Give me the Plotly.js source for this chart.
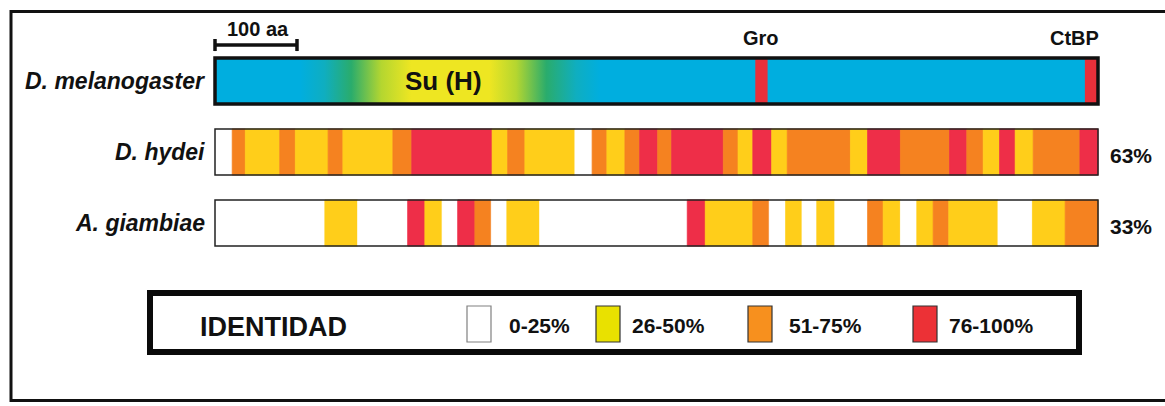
<!DOCTYPE html>
<html>
<head>
<meta charset="utf-8">
<script src="https://cdn.plot.ly/plotly-3.0.1.min.js"></script>
<style>html,body{margin:0;padding:0;background:#fff;}#chart{width:1165px;height:406px;}</style>
</head>
<body>
<div id="chart"></div>
<script>
// ---------------- data ----------------
const proteinLength = 1077;                       // aa, D. melanogaster Hairless
const species = ['D. melanogaster', 'D. hydei', 'A. giambiae'];
const identityPct = ['', '63%', '33%'];

// segment boundaries (aa) and identity class (0:0-25, 1:26-50, 2:51-75, 3:76-100)
const hydeiBounds = [0,21,37,79,98,138,156,217,240,338,357,378,439,460,478,500,518,540,557,620,638,656,679,698,775,796,836,896,917,937,957,976,998,1055,1077];
const hydeiLevel  = [0,2,1,2,1,2,1,2,3,1,2,1,0,2,1,2,3,2,3,2,1,3,1,2,1,3,2,3,2,1,3,1,2,3];
const giambiaeBounds = [0,134,174,235,256,277,296,317,337,356,396,576,598,656,676,696,716,734,756,796,815,836,856,876,895,955,997,1037,1077];
const giambiaeLevel  = [0,1,0,3,1,0,3,2,0,1,0,3,1,2,0,1,0,1,0,2,1,0,1,2,1,0,1,2];

const suHName = 'Su (H)';
const suHStart = 104, suHEnd = 470;
const motifNames = ['Gro', 'CtBP'];
const motifStart = [659, 1061];
const motifEnd   = [674, 1077];
const scaleBarAa = 100;
const scaleBarLabel = '100 aa';

const legendTitle = 'IDENTIDAD';
const legendLabels = ['0-25%', '26-50%', '51-75%', '76-100%'];

// ---------------- styles ----------------
const levelColors = ['#FFFFFF', '#FFCE1A', '#F58220', '#EE2E48'];
const legendSwatchColors = ['#FFFFFF', '#E9E100', '#F7901E', '#EC3136'];
const legendSwatchBorders = ['#808080', '#333333', '#333333', '#333333'];
const proteinBlue = '#00AEDF';
const motifRed = '#E8303A';
const FONT = 'Liberation Sans, Arial, sans-serif';

const W = 1165, H = 406;
const barLeftPx = 215, barRightPx = 1098;
const k = (barRightPx - barLeftPx) / proteinLength;      // px per aa
const rowTopPx = 81, rowStepPx = 71;
const half = 0.325;
const pxToPaperX = p => p / W;
const pxToPaperY = p => 1 - p / H;

const traces = [];
const shapes = [];
const annotations = [];

// ----- D. melanogaster protein -----
traces.push({
  type: 'bar', orientation: 'h', y: [0], base: [0], x: [proteinLength], width: half * 2,
  marker: {color: proteinBlue, line: {width: 0}}, hoverinfo: 'skip', showlegend: false
});
traces.push({
  type: 'bar', orientation: 'h', y: motifStart.map(() => 0), base: motifStart,
  x: motifStart.map((s, i) => motifEnd[i] - s), width: half * 2,
  marker: {color: motifRed, line: {width: 0}}, hoverinfo: 'skip', showlegend: false
});

// ----- identity tracks -----
function track(bounds, levels, row) {
  const base = [], len = [], col = [];
  for (let i = 0; i < levels.length; i++) {
    base.push(bounds[i]); len.push(bounds[i + 1] - bounds[i]); col.push(levelColors[levels[i]]);
  }
  traces.push({
    type: 'bar', orientation: 'h', y: base.map(() => row), base: base, x: len, width: half * 2,
    marker: {color: col, line: {color: col, width: 0.8}}, hoverinfo: 'skip', showlegend: false
  });
}
track(hydeiBounds, hydeiLevel, 1);
track(giambiaeBounds, giambiaeLevel, 2);

// Su(H) gradient domain
traces.push({
  type: 'scatter', mode: 'none', fill: 'toself',
  x: [suHStart, suHEnd, suHEnd, suHStart, suHStart],
  y: [-half, -half, half, half, -half],
  fillgradient: {
    type: 'horizontal',
    colorscale: [
      [0, proteinBlue], [0.08, '#0FAEC0'], [0.17, '#2AAC6C'], [0.27, '#B4D630'],
      [0.37, '#EEE622'], [0.63, '#EEE622'], [0.72, '#B4D630'], [0.82, '#2AAC6C'],
      [0.92, '#0FAEC0'], [1, proteinBlue]
    ]
  },
  hoverinfo: 'skip', showlegend: false
});

// scale bar
const sbY = (45 - rowTopPx) / rowStepPx, cap = 0.085;
traces.push({
  type: 'scatter', mode: 'lines',
  x: [0, scaleBarAa, null, 0, 0, null, scaleBarAa, scaleBarAa],
  y: [sbY, sbY, null, sbY - cap, sbY + cap, null, sbY - cap, sbY + cap],
  line: {color: '#111', width: 3.5}, hoverinfo: 'skip', showlegend: false
});

// borders of rows
shapes.push({type: 'rect', xref: 'x', yref: 'y', x0: 0, x1: proteinLength, y0: -half, y1: half,
  line: {color: '#111', width: 3.5}, fillcolor: 'rgba(0,0,0,0)'});
[1, 2].forEach(r => shapes.push({type: 'rect', xref: 'x', yref: 'y', x0: 0, x1: proteinLength,
  y0: r - half, y1: r + half, line: {color: '#222', width: 1.5}, fillcolor: 'rgba(0,0,0,0)'}));

// labels
const bold = (size, extra) => Object.assign({family: FONT, size: size, color: '#111', weight: 'bold'}, extra || {});
species.forEach((s, i) => {
  annotations.push({x: 0, y: i, xref: 'x', yref: 'y', text: s, showarrow: false,
    xanchor: 'right', yanchor: 'middle', xshift: -8, font: bold(23, {style: 'italic'})});
  if (identityPct[i]) annotations.push({x: proteinLength, y: i, xref: 'x', yref: 'y', text: identityPct[i],
    showarrow: false, xanchor: 'left', yanchor: 'middle', xshift: 10, yshift: -3, font: bold(21)});
});
annotations.push({x: (suHStart + suHEnd) / 2, y: 0, xref: 'x', yref: 'y', text: suHName, showarrow: false,
  xanchor: 'center', yanchor: 'middle', xshift: -7, font: bold(26)});
annotations.push({x: (motifStart[0] + motifEnd[0]) / 2, y: -half, xref: 'x', yref: 'y', text: motifNames[0],
  showarrow: false, xanchor: 'center', yanchor: 'bottom', yshift: 7, font: bold(20)});
annotations.push({x: motifEnd[1], y: -half, xref: 'x', yref: 'y', text: motifNames[1],
  showarrow: false, xanchor: 'right', yanchor: 'bottom', xshift: 3, yshift: 7, font: bold(20)});
annotations.push({x: scaleBarAa / 2, y: sbY, xref: 'x', yref: 'y', text: scaleBarLabel,
  showarrow: false, xanchor: 'center', yanchor: 'bottom', xshift: 2, yshift: 3, font: bold(20)});

// legend box
shapes.push({type: 'rect', xref: 'paper', yref: 'paper', x0: pxToPaperX(150), x1: pxToPaperX(1079),
  y0: pxToPaperY(293), y1: pxToPaperY(352), line: {color: '#0a0a0a', width: 6}, fillcolor: 'rgba(0,0,0,0)'});
annotations.push({x: pxToPaperX(198), y: pxToPaperY(327), xref: 'paper', yref: 'paper', text: legendTitle,
  showarrow: false, xanchor: 'left', yanchor: 'middle', font: bold(27)});
const swX = [467, 596, 748, 913], txX = [507, 630, 787, 947];
legendLabels.forEach((lab, i) => {
  shapes.push({type: 'rect', xref: 'paper', yref: 'paper', x0: pxToPaperX(swX[i]), x1: pxToPaperX(swX[i] + 24),
    y0: pxToPaperY(306), y1: pxToPaperY(342), fillcolor: legendSwatchColors[i],
    line: {color: legendSwatchBorders[i], width: 1.2}});
  annotations.push({x: pxToPaperX(txX[i]), y: pxToPaperY(325), xref: 'paper', yref: 'paper', text: lab,
    showarrow: false, xanchor: 'left', yanchor: 'middle', font: bold(21)});
});

// outer frame
shapes.push({type: 'rect', xref: 'paper', yref: 'paper', x0: pxToPaperX(11), x1: pxToPaperX(1175),
  y0: pxToPaperY(400.5), y1: pxToPaperY(11.5), line: {color: '#111', width: 3}, fillcolor: 'rgba(0,0,0,0)'});

const layout = {
  width: W, height: H, margin: {l: 0, r: 0, t: 0, b: 0},
  paper_bgcolor: '#fff', plot_bgcolor: '#fff', barmode: 'overlay', showlegend: false,
  xaxis: {range: [-barLeftPx / k, (W - barLeftPx) / k], visible: false, fixedrange: true},
  yaxis: {range: [(H - rowTopPx) / rowStepPx, -rowTopPx / rowStepPx], visible: false, fixedrange: true},
  shapes: shapes, annotations: annotations
};
Plotly.newPlot('chart', traces, layout, {staticPlot: true, displayModeBar: false});
</script>
</body>
</html>
